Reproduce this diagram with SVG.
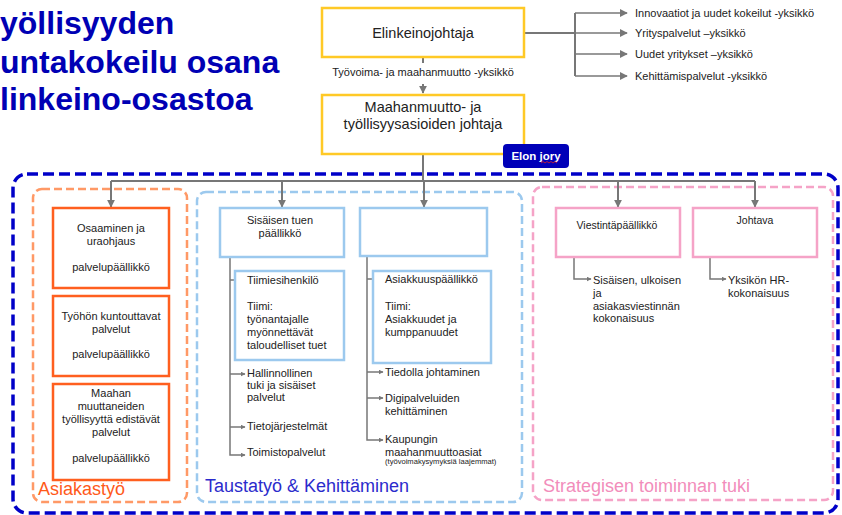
<svg xmlns="http://www.w3.org/2000/svg" width="842" height="515" viewBox="0 0 842 515">
<defs>
<marker id="ah" viewBox="0 0 10 10" refX="9" refY="5" markerWidth="5" markerHeight="5" orient="auto" markerUnits="userSpaceOnUse"><path d="M0,0 L10,5 L0,10 z" fill="#777"/></marker>
<marker id="ahL" viewBox="0 0 10 10" refX="9" refY="5" markerWidth="8" markerHeight="8" orient="auto" markerUnits="userSpaceOnUse"><path d="M0,0 L10,5 L0,10 z" fill="#777"/></marker>
</defs>
<style>
text{font-family:"Liberation Sans",Arial,sans-serif;fill:#222}
.title{font-size:32px;font-weight:bold;fill:#0000b4}
.yb{fill:#fff;stroke:#ffc926;stroke-width:2.5}
.ob{fill:#fff;stroke:#ff5f1f;stroke-width:2.5}
.bb{fill:#fff;stroke:#9cc9ee;stroke-width:2.5}
.pb{fill:#fff;stroke:#f5a3c7;stroke-width:2.5}
.t11{font-size:11px}
.c{text-anchor:middle}
.con{fill:none;stroke:#777;stroke-width:2}
.cons{fill:none;stroke:#777;stroke-width:1.5}
.lbl{font-size:18px}
</style>

<g id="title">
<text class="title" x="0" y="34">yöllisyyden</text>
<text class="title" x="0" y="73">untakokeilu osana</text>
<text class="title" x="0" y="110">linkeino-osastoa</text>
</g>

<g id="containers">
<rect x="13" y="174" width="825" height="339" rx="14" fill="none" stroke="#0000c8" stroke-width="3.5" stroke-dasharray="11 5"/>
<rect x="33" y="189" width="154" height="313" rx="9" fill="none" stroke="#ff9966" stroke-width="2.5" stroke-dasharray="8 4"/>
<rect x="197" y="192" width="325" height="310" rx="9" fill="none" stroke="#9cc9ee" stroke-width="2.5" stroke-dasharray="8 4"/>
<rect x="533" y="187" width="300" height="313" rx="9" fill="none" stroke="#f5a3c7" stroke-width="2.5" stroke-dasharray="8 4"/>
<text class="lbl" x="38" y="495" style="fill:#ff5a1a">Asiakastyö</text>
<text class="lbl" x="205" y="492" style="fill:#2b2bcc">Taustatyö &amp; Kehittäminen</text>
<text class="lbl" x="543" y="492" style="fill:#f28dbb">Strategisen toiminnan tuki</text>
</g>

<g id="connectors">
<path class="con" d="M423,57 V63"/>
<path class="con" d="M423,84 V93" marker-end="url(#ahL)"/>
<path class="con" d="M524,33 H575"/>
<path class="con" d="M575,13 V76"/>
<path class="cons" d="M575,13 H627" marker-end="url(#ahL)"/>
<path class="cons" d="M575,33 H627" marker-end="url(#ahL)"/>
<path class="cons" d="M575,54 H627" marker-end="url(#ahL)"/>
<path class="cons" d="M575,76 H627" marker-end="url(#ahL)"/>
<path class="con" d="M423,154 V181"/>
<path class="con" d="M111,181 H755"/>
<path class="con" d="M111,181 V207" marker-end="url(#ahL)"/>
<path class="con" d="M282,181 V207" marker-end="url(#ahL)"/>
<path class="con" d="M424,181 V207" marker-end="url(#ahL)"/>
<path class="con" d="M618,181 V207" marker-end="url(#ahL)"/>
<path class="con" d="M755,181 V207" marker-end="url(#ahL)"/>
<path class="cons" d="M230,257 V455 H245" marker-end="url(#ah)"/>
<path class="cons" d="M230,280 H244" marker-end="url(#ah)"/>
<path class="cons" d="M230,374 H245" marker-end="url(#ah)"/>
<path class="cons" d="M230,427 H245" marker-end="url(#ah)"/>
<path class="cons" d="M367,256 V440 H383" marker-end="url(#ah)"/>
<path class="cons" d="M367,279 H383" marker-end="url(#ah)"/>
<path class="cons" d="M367,372 H383" marker-end="url(#ah)"/>
<path class="cons" d="M367,398 H383" marker-end="url(#ah)"/>
<path class="cons" d="M574,257 V279 H591" marker-end="url(#ah)"/>
<path class="cons" d="M710,257 V279 H726" marker-end="url(#ah)"/>
</g>

<g id="n-elinkeino">
<rect class="yb" x="322" y="8" width="202" height="49"/>
<text class="c" x="423" y="38" style="font-size:14.5px">Elinkeinojohtaja</text>
</g>
<g id="l-tyovoima">
<text class="c t11" x="423" y="76">Työvoima- ja maahanmuutto -yksikkö</text>
</g>
<g id="n-maahanmuutto">
<rect class="yb" x="322" y="95" width="202" height="59"/>
<text class="c" x="423" y="112" style="font-size:14.5px">Maahanmuutto- ja</text>
<text class="c" x="423" y="129" style="font-size:14.5px">työllisyysasioiden johtaja</text>
</g>
<g id="n-elonjory">
<rect x="503" y="144" width="66" height="24" rx="4" fill="#0000b8"/>
<text x="536" y="160" class="c" style="font-size:11.5px;font-weight:bold;fill:#fff">Elon jory</text>
<path d="M541,163 l2,-1.5 l2,1.5 l2,-1.5 l2,1.5 l2,-1.5 l2,1.5 l2,-1.5 l2,1.5" fill="none" stroke="#e02020" stroke-width="0.8"/>
</g>

<g id="n-units" class="t11">
<text x="635" y="17">Innovaatiot ja uudet kokeilut -yksikkö</text>
<text x="635" y="37">Yrityspalvelut –yksikkö</text>
<text x="635" y="58">Uudet yritykset –yksikkö</text>
<text x="635" y="80">Kehittämispalvelut -yksikkö</text>
</g>

<g id="n-osaaminen">
<rect class="ob" x="53" y="208" width="116" height="80"/>
<text class="c t11" x="111" y="232">Osaaminen ja</text>
<text class="c t11" x="111" y="245">uraohjaus</text>
<text class="c t11" x="111" y="271">palvelupäällikkö</text>
</g>
<g id="n-tyohon">
<rect class="ob" x="53" y="296" width="116" height="80"/>
<text class="c t11" x="111" y="320">Työhön kuntouttavat</text>
<text class="c t11" x="111" y="333">palvelut</text>
<text class="c t11" x="111" y="358">palvelupäällikkö</text>
</g>
<g id="n-maahanmuuttaneiden">
<rect class="ob" x="53" y="384" width="116" height="96"/>
<text class="c t11" x="111" y="397">Maahan</text>
<text class="c t11" x="111" y="410">muuttaneiden</text>
<text class="c t11" x="111" y="423">työllisyyttä edistävät</text>
<text class="c t11" x="111" y="436">palvelut</text>
<text class="c t11" x="111" y="462">palvelupäällikkö</text>
</g>

<g id="n-sisaisen">
<rect class="bb" x="220" y="208" width="124" height="49"/>
<text class="c t11" x="280" y="224">Sisäisen tuen</text>
<text class="c t11" x="280" y="237">päällikkö</text>
</g>
<g id="n-tiimiesihenkilo">
<rect class="bb" x="235" y="271" width="109" height="89"/>
<text class="t11" x="247" y="284">Tiimiesihenkilö</text>
<text class="t11" x="247" y="310">Tiimi:</text>
<text class="t11" x="247" y="323">työnantajalle</text>
<text class="t11" x="247" y="336">myönnettävät</text>
<text class="t11" x="247" y="349">taloudelliset tuet</text>
</g>
<g id="n-hallinnollinen" class="t11">
<text x="247" y="377">Hallinnollinen</text>
<text x="247" y="389">tuki ja sisäiset</text>
<text x="247" y="401">palvelut</text>
</g>
<g id="n-tietojarjestelmat" class="t11"><text x="247" y="430">Tietojärjestelmät</text></g>
<g id="n-toimistopalvelut" class="t11"><text x="247" y="456">Toimistopalvelut</text></g>

<g id="n-empty">
<rect class="bb" x="360" y="208" width="127" height="48"/>
</g>
<g id="n-asiakkuus">
<rect class="bb" x="373" y="271" width="118" height="92"/>
<text class="t11" x="385" y="283">Asiakkuuspäällikkö</text>
<text class="t11" x="385" y="310">Tiimi:</text>
<text class="t11" x="385" y="323">Asiakkuudet ja</text>
<text class="t11" x="385" y="336">kumppanuudet</text>
</g>
<g id="n-tiedolla" class="t11"><text x="385" y="376">Tiedolla johtaminen</text></g>
<g id="n-digipalvelut" class="t11">
<text x="385" y="402">Digipalveluiden</text>
<text x="385" y="415">kehittäminen</text>
</g>
<g id="n-kaupungin">
<text class="t11" x="385" y="443">Kaupungin</text>
<text class="t11" x="385" y="456">maahanmuuttoasiat</text>
<text x="385" y="464" style="font-size:7.6px">(työvoimakysymyksiä laajemmat)</text>
</g>

<g id="n-viestinta">
<rect class="pb" x="556" y="208" width="124" height="49"/>
<text class="c" x="617" y="229" style="font-size:10.5px">Viestintäpäällikkö</text>
</g>
<g id="n-viestinta-sub" class="t11">
<text x="593" y="284">Sisäisen, ulkoisen</text>
<text x="593" y="297">ja</text>
<text x="593" y="310">asiakasviestinnän</text>
<text x="593" y="322">kokonaisuus</text>
</g>
<g id="n-johtava">
<rect class="pb" x="693" y="208" width="124" height="49"/>
<text class="c" x="755" y="224" style="font-size:10.5px">Johtava</text>
</g>
<g id="n-hr" class="t11">
<text x="728" y="284">Yksikön HR-</text>
<text x="728" y="297">kokonaisuus</text>
</g>
</svg>
